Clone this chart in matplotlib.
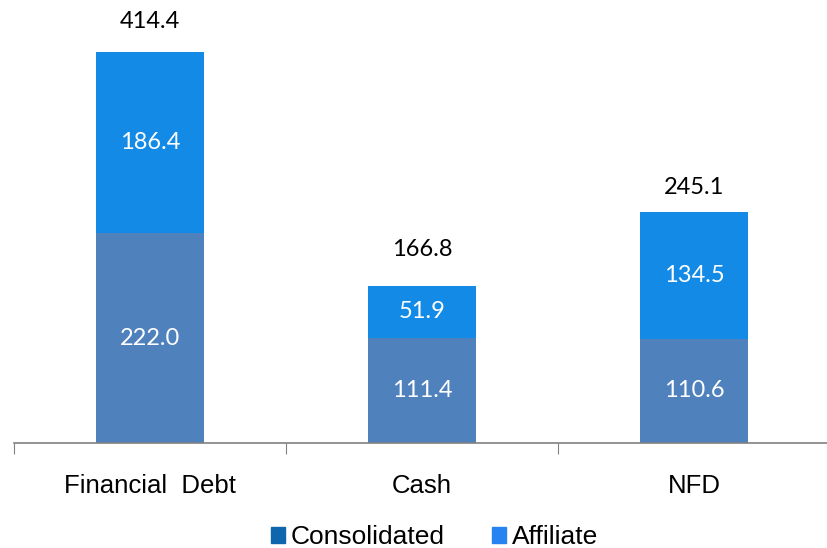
import matplotlib.pyplot as plt
from matplotlib.patches import Patch

categories = ['Financial  Debt', 'Cash', 'NFD']
consolidated = [222.0, 111.4, 110.6]
affiliate = [186.4, 51.9, 134.5]
totals = [414.4, 166.8, 245.1]

bar_cons = '#4f81bd'
bar_aff = '#138be6'
leg_cons = '#1066ac'
leg_aff = '#2683f0'
total_gap_px = [30, 36, 24]  # distancia de la etiqueta total sobre la barra
px_per_unit = 0.944

fig = plt.figure(figsize=(8.27, 5.48), dpi=100)
ax = fig.add_axes([14 / 827, 1 - 443 / 548, 816 / 827, 433 / 548])

x = range(len(categories))
# la parte de affiliate se dibuja hasta el total
aff_heights = [t - c for t, c in zip(totals, consolidated)]
ax.bar(x, consolidated, width=0.4, color=bar_cons)
ax.bar(x, aff_heights, width=0.4, bottom=consolidated, color=bar_aff)

lbl_font = ['Lato', 'DejaVu Sans']
for i in x:
    ax.text(i, consolidated[i] / 2, f'{consolidated[i]:.1f}', ha='center', va='center',
            color='white', fontsize=17, family=lbl_font)
    ax.text(i, consolidated[i] + aff_heights[i] / 2, f'{affiliate[i]:.1f}', ha='center',
            va='center', color='white', fontsize=17, family=lbl_font)
    ax.text(i, totals[i] + total_gap_px[i] / px_per_unit, f'{totals[i]:.1f}', ha='center',
            va='center', color='black', fontsize=17, family=lbl_font)

ax.set_xlim(-0.5, 2.5)
ax.set_ylim(0, 433 / px_per_unit)
ax.set_xticks([-0.5, 0.5, 1.5])
ax.set_xticklabels([])
ax.set_xticks(list(x), minor=True)
ax.set_xticklabels(categories, minor=True, fontsize=18.5, family='Liberation Sans')
ax.tick_params(axis='x', which='major', length=8, color='#808080')
ax.tick_params(axis='x', which='minor', length=0, pad=22)
ax.set_yticks([])
for s in ['top', 'right', 'left']:
    ax.spines[s].set_visible(False)
ax.spines['bottom'].set_color('#808080')
ax.spines['bottom'].set_linewidth(1.2)

handles = [Patch(color=leg_cons, label='Consolidated'), Patch(color=leg_aff, label='Affiliate')]
fig.legend(handles=handles, loc='center', bbox_to_anchor=(0.525, 1 - 537 / 548), ncol=2,
           frameon=False, prop={'family': 'Liberation Sans', 'size': 19},
           handlelength=0.55, handleheight=0.55, handletextpad=0.2, columnspacing=1.8)

fig.savefig('out.png', dpi=100)
